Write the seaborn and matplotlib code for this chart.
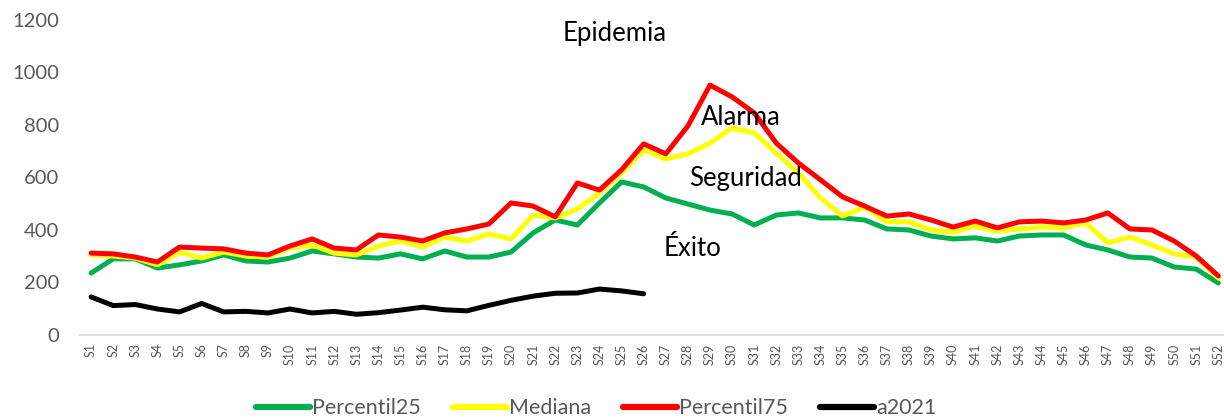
import pandas as pd
import numpy as np
import matplotlib.pyplot as plt
import seaborn as sns

semanas = ["S" + str(i) for i in range(1, 53)]

percentil25 = [236, 290, 290, 255, 267, 282, 305, 282, 278, 293, 320, 309, 297, 293, 309, 290,
               320, 297, 297, 316, 389, 438, 419, 503, 583, 564, 522, 499, 476, 461, 419, 457,
               465, 446, 446, 438, 404, 400, 377, 366, 370, 358, 377, 381, 381, 343, 324, 297,
               293, 259, 251, 198]
mediana = [305, 301, 293, 267, 316, 293, 316, 301, 297, 331, 343, 312, 305, 339, 358, 335,
           373, 358, 385, 366, 457, 446, 480, 541, 617, 705, 671, 690, 731, 789, 770, 693,
           617, 522, 453, 488, 431, 431, 400, 392, 415, 396, 404, 411, 408, 427, 351, 373,
           343, 309, 297, 217]
percentil75 = [312, 309, 297, 278, 335, 331, 328, 312, 305, 339, 366, 331, 324, 381, 373, 358,
               389, 404, 423, 503, 491, 450, 579, 552, 629, 728, 690, 796, 952, 907, 846, 731,
               655, 591, 526, 491, 453, 461, 438, 411, 434, 408, 431, 434, 427, 438, 465, 404,
               400, 358, 301, 225]
a2021 = [145, 112, 116, 99, 88, 120, 88, 90, 84, 99, 84, 90, 79, 85, 95, 106,
         96, 92, 113, 132, 148, 159, 160, 175, 168, 157]

series = ["Percentil25", "Mediana", "Percentil75", "a2021"]
colores = ["#00B050", "#FFFF00", "#FF0000", "#000000"]

zonas = ["Epidemia", "Alarma", "Seguridad", "Éxito"]
zonas_x = [23.7, 29.4, 29.6, 27.2]
zonas_y = [1150, 827, 598, 331]

# tabla larga para seaborn
df = pd.concat([
    pd.DataFrame({"semana": range(len(v)), "valor": v, "serie": s})
    for s, v in zip(series, [percentil25, mediana, percentil75, a2021])
])

sns.set_style("white")
plt.rcParams["font.family"] = ["Lato", "DejaVu Sans"]

fig = plt.figure(figsize=(12.24, 4.2), dpi=100)
ax = fig.add_axes([0.0654, 0.2024, 0.939, 0.75])

sns.lineplot(data=df, x="semana", y="valor", hue="serie", hue_order=series,
             palette=colores, linewidth=3.6, ax=ax, legend=False, sort=False)

for txt, x, y in zip(zonas, zonas_x, zonas_y):
    ax.text(x, y, txt, ha="center", va="center", fontsize=18.5, color="black")

ax.set_xlim(-0.5, len(semanas) - 0.5)
ax.set_ylim(0, 1200)
ax.set_yticks(range(0, 1201, 200))
ax.set_xticks(range(len(semanas)))
ax.set_xticklabels(semanas, rotation=90, fontsize=9, color="#595959")
ax.tick_params(axis="y", labelsize=14.5, labelcolor="#595959", length=0, pad=15)
ax.tick_params(axis="x", length=0, pad=6)
ax.set_xlabel("")
ax.set_ylabel("")
for lado in ["top", "right", "left"]:
    ax.spines[lado].set_visible(False)
ax.spines["bottom"].set_color("#D9D9D9")
ax.spines["bottom"].set_linewidth(1.2)

handles = [plt.Line2D([], [], color=c, lw=4.5) for c in colores]
fig.legend(handles, series, loc="center", bbox_to_anchor=(0.487, 0.028), ncol=4,
           frameon=False, fontsize=15.5, labelcolor="#595959", handlelength=2.5,
           handletextpad=0.1, columnspacing=1.5)

fig.savefig("out.png", dpi=100)
